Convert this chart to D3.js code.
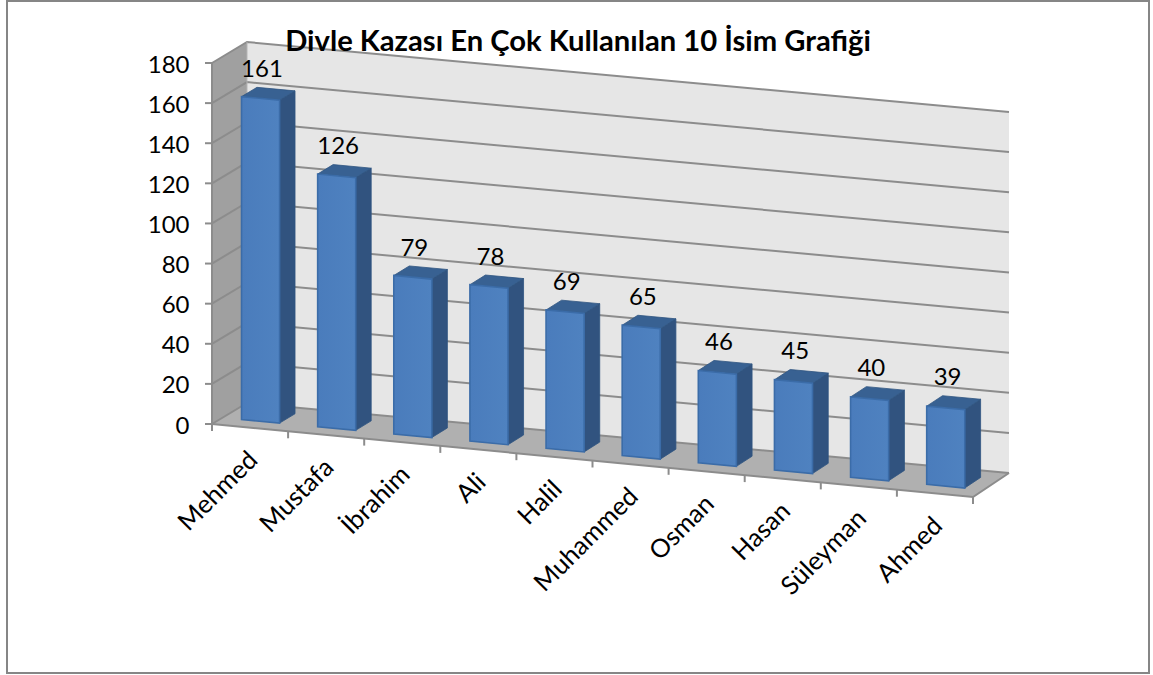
<!DOCTYPE html>
<html><head><meta charset="utf-8">
<script src="https://cdn.jsdelivr.net/npm/d3@7"></script>
<style>html,body{margin:0;padding:0;background:#fff}svg{display:block}text{font-family:Lato,sans-serif;fill:#000}</style>
</head><body><svg id="c" width="1153" height="675"></svg>
<script>
const titleText = "Divle Kazası En Çok Kullanılan 10 İsim Grafiği";
const categories = ["Mehmed","Mustafa","İbrahim","Ali","Halil","Muhammed","Osman","Hasan","Süleyman","Ahmed"];
const counts = [161,126,79,78,69,65,46,45,40,39];
const yTicks = [0,20,40,60,80,100,120,140,160,180];

const svg = d3.select("#c");
const U = 761;
const x = d3.scaleBand().domain(categories).range([0,U]).paddingInner(0.5).paddingOuter(0.25);
const y = d3.scaleLinear().domain([0,180]).range([0,361]);
// Oblique projection: along-axis u, value height h, depth d (0 front, 1 back)
const fx0 = d3.scaleLinear().domain([0,U]).range([212,973]);
const fy0 = d3.scaleLinear().domain([0,U]).range([424,497]);
const bx0 = d3.scaleLinear().domain([0,U]).range([247,1009]);
const by0 = d3.scaleLinear().domain([0,U]).range([403,473]);
function P(u,h,d){
  return [fx0(u)+(bx0(u)-fx0(u))*d, fy0(u)+(by0(u)-fy0(u))*d-h];
}
const closedPath = pts => "M"+pts.map(p=>p.join(",")).join("L")+"Z";
const openPath = pts => "M"+pts.map(p=>p.join(",")).join("L");
const wallH = y(180);

svg.append("rect").attr("x",7).attr("y",1).attr("width",1142).attr("height",672)
  .attr("fill","#fff").attr("stroke","#868686").attr("stroke-width",2);

const defs = svg.append("defs");
const g1 = defs.append("linearGradient").attr("id","front").attr("x1",0).attr("x2",1).attr("y1",0).attr("y2",0);
g1.append("stop").attr("offset",0).attr("stop-color","#4a7cbc");
g1.append("stop").attr("offset",1).attr("stop-color","#4f82c0");

// walls and floor
svg.append("path").attr("d",closedPath([P(0,0,0),P(0,wallH,0),P(0,wallH,1),P(0,0,1)])).attr("fill","#a0a0a0");
svg.append("path").attr("d",closedPath([P(0,0,1),P(0,wallH,1),P(U,wallH,1),P(U,0,1)])).attr("fill","#e6e6e6");
svg.append("path").attr("d",closedPath([P(0,0,0),P(0,0,1),P(U,0,1),P(U,0,0)])).attr("fill","#b0b0b0");

// gridlines
svg.append("g").selectAll("path").data(yTicks).join("path")
  .attr("d",t=>openPath([P(0,y(t),0),P(0,y(t),1),P(U,y(t),1)]))
  .attr("fill","none").attr("stroke","#8c8c8c").attr("stroke-width",2);
svg.append("path").attr("d",openPath([P(0,0,0),P(0,wallH,0)])).attr("fill","none").attr("stroke","#8c8c8c").attr("stroke-width",2);
svg.append("path").attr("d",openPath([P(0,wallH,1),P(0,0,1)])).attr("fill","none").attr("stroke","#b5b5b5").attr("stroke-width",1);
svg.append("path").attr("d",openPath([P(0,0,0),P(U,0,0),P(U,0,1)])).attr("fill","none").attr("stroke","#8c8c8c").attr("stroke-width",2);

// axis ticks
svg.append("g").selectAll("line").data(yTicks).join("line")
  .attr("x1",t=>P(0,y(t),0)[0]-7).attr("x2",t=>P(0,y(t),0)[0])
  .attr("y1",t=>P(0,y(t),0)[1]).attr("y2",t=>P(0,y(t),0)[1])
  .attr("stroke","#8c8c8c").attr("stroke-width",2);
const step = x.step();
svg.append("g").selectAll("line").data(d3.range(categories.length+1)).join("line")
  .attr("x1",i=>P(i*step,0,0)[0]).attr("x2",i=>P(i*step,0,0)[0])
  .attr("y1",i=>P(i*step,0,0)[1]).attr("y2",i=>P(i*step,0,0)[1]+7)
  .attr("stroke","#8c8c8c").attr("stroke-width",2);

// y labels
svg.append("g").selectAll("text").data(yTicks).join("text")
  .attr("x",189.5).attr("y",t=>P(0,y(t),0)[1]+9.5).attr("text-anchor","end")
  .attr("font-size",24).text(t=>t);

// bars
const d0=0.30,d1=0.74;
const bars = svg.append("g").selectAll("g").data(categories.map((c,i)=>({c,v:counts[i]}))).join("g");
bars.append("path").attr("d",b=>{const a=x(b.c),e=a+x.bandwidth(),h=y(b.v);
  return closedPath([P(e,0,d0),P(e,h,d0),P(e,h,d1),P(e,0,d1)]);}).attr("fill","#31537f").attr("stroke","#2f5480").attr("stroke-width",.8);
bars.append("path").attr("d",b=>{const a=x(b.c),e=a+x.bandwidth(),h=y(b.v);
  return closedPath([P(a,h,d0),P(a,h,d1),P(e,h,d1),P(e,h,d0)]);}).attr("fill","#386192").attr("stroke","#2f5480").attr("stroke-width",.8);
bars.append("path").attr("d",b=>{const a=x(b.c),e=a+x.bandwidth(),h=y(b.v);
  return closedPath([P(a,0,d0),P(a,h,d0),P(e,h,d0),P(e,0,d0)]);}).attr("fill","url(#front)").attr("stroke","#3b6ca8").attr("stroke-width",1.6);

// value labels
bars.append("text").attr("text-anchor","middle").attr("font-size",24)
  .attr("x",b=>P(x(b.c)+x.bandwidth()/2,y(b.v),d1)[0]-14)
  .attr("y",b=>P(x(b.c)+x.bandwidth()/2,y(b.v),d1)[1]-12)
  .text(b=>b.v);

// category labels
svg.append("g").selectAll("text").data(categories).join("text")
  .attr("text-anchor","end").attr("font-size",25.5)
  .attr("transform",c=>{const p=P(x(c)+x.bandwidth()/2,0,0);return `translate(${p[0]+9},${p[1]+34}) rotate(-45)`;})
  .text(c=>c);

// title
svg.append("text").attr("x",578).attr("y",51).attr("text-anchor","middle")
  .attr("font-size",29.2).attr("font-weight",700).text(titleText);
</script></body></html>
